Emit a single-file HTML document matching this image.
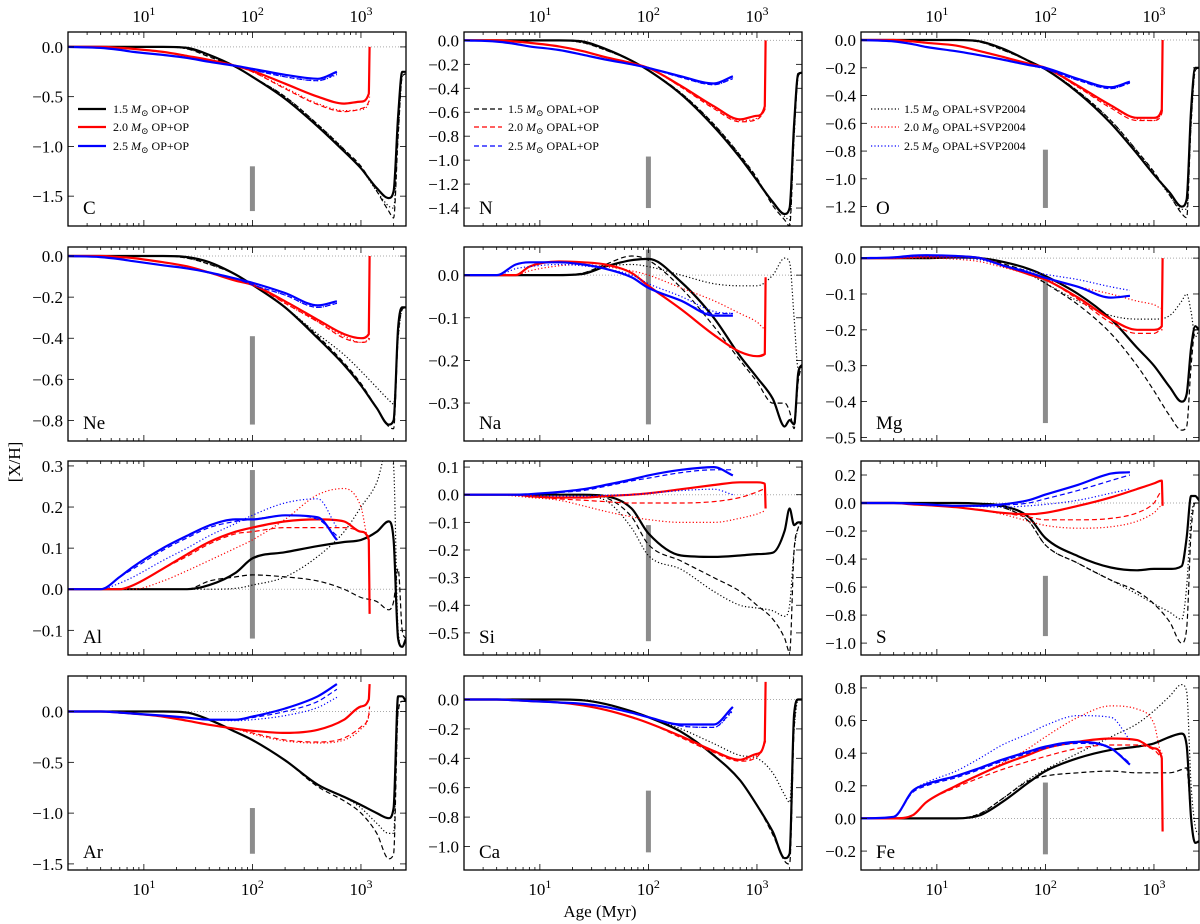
<!DOCTYPE html>
<html><head><meta charset="utf-8">
<style>
html,body{margin:0;padding:0;background:#fff;}
svg{display:block;font-family:"Liberation Serif","DejaVu Serif",serif;}
</style></head>
<body>
<svg id="fig" width="1200" height="924" viewBox="0 0 1200 924" xmlns="http://www.w3.org/2000/svg">
<text x="600" y="917" font-size="17" text-anchor="middle">Age (Myr)</text>
<text x="0" y="0" font-size="17" text-anchor="middle" transform="translate(20,462) rotate(-90)">[X/H]</text>
</svg>
<script>
// ---------- age grids (Myr) ----------
const A15=[2,4,8,15,25,40,70,100,200,400,700,1000,1400,1800,2000,2200,2400,2600];
const A20=[2,4,6,8,15,25,40,70,100,200,400,700,1000,1180,1200];
const A25=[2,4,6,8,15,25,40,70,100,200,400,600];
// ---------- C ----------
const C_15s=[0,0,0,0,-0.01,-0.08,-0.2,-0.3,-0.52,-0.8,-1.05,-1.22,-1.42,-1.52,-1.45,-0.7,-0.25,-0.25];
const C_15d=[0,0,0,0,-0.02,-0.1,-0.2,-0.3,-0.5,-0.78,-1.03,-1.2,-1.45,-1.65,-1.72,-0.9,-0.3,-0.27];
const C_15o=[0,0,0,0,-0.02,-0.09,-0.2,-0.3,-0.5,-0.78,-1.03,-1.22,-1.45,-1.6,-1.62,-0.9,-0.3,-0.27];
const C_20s=[0,0,-0.01,-0.02,-0.05,-0.09,-0.13,-0.19,-0.24,-0.37,-0.5,-0.57,-0.55,-0.47,0.0];
const C_20d=[0,0,-0.01,-0.02,-0.05,-0.09,-0.13,-0.19,-0.25,-0.42,-0.58,-0.65,-0.62,-0.55,-0.5];
const C_20o=[0,0,-0.01,-0.02,-0.05,-0.09,-0.13,-0.19,-0.25,-0.41,-0.57,-0.64,-0.63,-0.56,-0.52];
const C_25s=[0,-0.01,-0.03,-0.05,-0.08,-0.11,-0.15,-0.19,-0.22,-0.28,-0.32,-0.25];
const C_25d=[0,-0.01,-0.03,-0.05,-0.08,-0.11,-0.15,-0.19,-0.23,-0.3,-0.34,-0.27];
const C_25o=[0,-0.01,-0.03,-0.05,-0.08,-0.11,-0.15,-0.19,-0.23,-0.3,-0.34,-0.28];
// ---------- N ----------
const N_15s=[0,0,0,0,-0.01,-0.07,-0.17,-0.25,-0.45,-0.72,-0.98,-1.17,-1.35,-1.45,-1.4,-0.7,-0.28,-0.27];
const N_15d=[0,0,0,0,-0.02,-0.08,-0.17,-0.25,-0.44,-0.7,-0.96,-1.15,-1.38,-1.5,-1.55,-0.8,-0.3,-0.27];
const N_15o=[0,0,0,0,-0.02,-0.08,-0.17,-0.25,-0.44,-0.7,-0.96,-1.16,-1.36,-1.47,-1.5,-0.8,-0.3,-0.27];
const N_20s=[0,0,-0.01,-0.02,-0.05,-0.09,-0.14,-0.19,-0.23,-0.38,-0.55,-0.66,-0.63,-0.55,0.0];
const N_20d=[0,0,-0.01,-0.02,-0.05,-0.09,-0.14,-0.19,-0.23,-0.39,-0.57,-0.68,-0.66,-0.58,-0.56];
const N_20o=[0,0,-0.01,-0.02,-0.05,-0.09,-0.14,-0.19,-0.23,-0.39,-0.56,-0.67,-0.65,-0.57,-0.55];
const N_25s=[0,-0.01,-0.03,-0.05,-0.08,-0.12,-0.16,-0.2,-0.23,-0.3,-0.36,-0.3];
const N_25d=[0,-0.01,-0.03,-0.05,-0.08,-0.12,-0.16,-0.2,-0.23,-0.31,-0.37,-0.32];
const N_25o=[0,-0.01,-0.03,-0.05,-0.08,-0.12,-0.16,-0.2,-0.23,-0.31,-0.37,-0.32];
// ---------- O ----------
const O_15s=[0,0,0,0,-0.01,-0.06,-0.15,-0.21,-0.38,-0.6,-0.82,-0.97,-1.1,-1.2,-1.15,-0.5,-0.2,-0.2];
const O_15d=[0,0,0,0,-0.015,-0.07,-0.15,-0.21,-0.37,-0.58,-0.8,-0.95,-1.12,-1.25,-1.28,-0.6,-0.22,-0.2];
const O_15o=[0,0,0,0,-0.015,-0.07,-0.15,-0.21,-0.37,-0.58,-0.8,-0.96,-1.12,-1.22,-1.22,-0.6,-0.22,-0.2];
const O_20s=[0,0,-0.01,-0.02,-0.04,-0.08,-0.12,-0.17,-0.2,-0.33,-0.47,-0.56,-0.56,-0.5,0.0];
const O_20d=[0,0,-0.01,-0.02,-0.04,-0.08,-0.12,-0.17,-0.2,-0.34,-0.49,-0.58,-0.58,-0.53,-0.5];
const O_20o=[0,0,-0.01,-0.02,-0.04,-0.08,-0.12,-0.17,-0.2,-0.34,-0.48,-0.57,-0.58,-0.52,-0.5];
const O_25s=[0,-0.01,-0.03,-0.05,-0.08,-0.11,-0.14,-0.18,-0.2,-0.28,-0.34,-0.3];
const O_25d=[0,-0.01,-0.03,-0.05,-0.08,-0.11,-0.14,-0.18,-0.21,-0.29,-0.35,-0.31];
const O_25o=[0,-0.01,-0.03,-0.05,-0.08,-0.11,-0.14,-0.18,-0.21,-0.29,-0.35,-0.31];
// ---------- Ne ----------
const Ne_15s=[0,0,0,0,-0.005,-0.03,-0.09,-0.14,-0.25,-0.4,-0.53,-0.63,-0.74,-0.82,-0.8,-0.35,-0.25,-0.25];
const Ne_15d=[0,0,0,0,-0.01,-0.04,-0.09,-0.14,-0.25,-0.39,-0.52,-0.62,-0.74,-0.83,-0.84,-0.4,-0.26,-0.25];
const Ne_15o=[0,0,0,0,-0.01,-0.04,-0.09,-0.14,-0.25,-0.38,-0.48,-0.56,-0.64,-0.7,-0.72,-0.4,-0.26,-0.25];
const Ne_20s=[0,0,-0.005,-0.01,-0.03,-0.05,-0.08,-0.12,-0.14,-0.22,-0.31,-0.38,-0.4,-0.38,0.0];
const Ne_20d=[0,0,-0.005,-0.01,-0.03,-0.05,-0.08,-0.12,-0.14,-0.23,-0.32,-0.4,-0.42,-0.41,-0.4];
const Ne_20o=[0,0,-0.005,-0.01,-0.03,-0.05,-0.08,-0.12,-0.14,-0.23,-0.32,-0.39,-0.42,-0.4,-0.39];
const Ne_25s=[0,-0.005,-0.015,-0.025,-0.045,-0.06,-0.08,-0.11,-0.13,-0.18,-0.24,-0.22];
const Ne_25d=[0,-0.005,-0.015,-0.025,-0.045,-0.06,-0.08,-0.11,-0.14,-0.19,-0.25,-0.23];
const Ne_25o=[0,-0.005,-0.015,-0.025,-0.045,-0.06,-0.08,-0.11,-0.14,-0.19,-0.25,-0.23];
// ---------- Na ----------
const Na_15s=[0,0,0,0,0.003,0.02,0.035,0.038,-0.016,-0.1,-0.19,-0.24,-0.29,-0.355,-0.34,-0.35,-0.23,-0.21];
const Na_15d=[0,0,0,0,0.005,0.025,0.045,0.035,-0.03,-0.12,-0.2,-0.25,-0.3,-0.3,-0.32,-0.36,-0.25,-0.21];
const Na_15o=[0,0,0,0,0.005,0.02,0.025,0.02,0.0,-0.02,-0.025,-0.025,0.0,0.04,0.03,-0.1,-0.22,-0.21];
const Na_20s=[0,0,0,0.02,0.032,0.03,0.025,0.005,-0.025,-0.08,-0.14,-0.18,-0.19,-0.185,-0.005];
const Na_20d=[0,0,0,0.02,0.032,0.03,0.025,0.005,-0.025,-0.08,-0.14,-0.18,-0.19,-0.185,-0.185];
const Na_20o=[0,0,0,0.01,0.022,0.025,0.02,0.01,0.0,-0.03,-0.06,-0.09,-0.11,-0.125,-0.125];
const Na_25s=[0,0,0.025,0.03,0.03,0.025,0.015,-0.005,-0.03,-0.06,-0.095,-0.095];
const Na_25d=[0,0,0.025,0.03,0.03,0.025,0.015,-0.005,-0.03,-0.06,-0.09,-0.09];
const Na_25o=[0,0,0.015,0.02,0.025,0.022,0.015,0.0,-0.02,-0.05,-0.085,-0.09];
// ---------- Mg ----------
const Mg_15s=[0,0,0,0.002,0.0,-0.01,-0.03,-0.05,-0.1,-0.17,-0.25,-0.3,-0.36,-0.4,-0.38,-0.25,-0.19,-0.2];
const Mg_15d=[0,0,0,0.002,0.0,-0.015,-0.04,-0.07,-0.13,-0.21,-0.3,-0.37,-0.44,-0.48,-0.47,-0.3,-0.2,-0.2];
const Mg_15o=[0,0,0,0,-0.003,-0.02,-0.045,-0.07,-0.12,-0.16,-0.17,-0.17,-0.16,-0.12,-0.1,-0.15,-0.22,-0.2];
const Mg_20s=[0,0,0.003,0.005,0.005,0,-0.02,-0.045,-0.06,-0.11,-0.17,-0.2,-0.2,-0.19,0.0];
const Mg_20d=[0,0,0.003,0.005,0.005,0,-0.02,-0.045,-0.06,-0.115,-0.18,-0.21,-0.21,-0.2,-0.2];
const Mg_20o=[0,0,0,0,-0.003,-0.01,-0.025,-0.045,-0.06,-0.08,-0.1,-0.12,-0.13,-0.14,-0.14];
const Mg_25s=[0,0.002,0.007,0.008,0.006,0.0,-0.02,-0.04,-0.055,-0.08,-0.11,-0.105];
const Mg_25d=[0,0.002,0.007,0.008,0.006,0.0,-0.02,-0.04,-0.055,-0.08,-0.11,-0.105];
const Mg_25o=[0,0,0.003,0.004,0.0,-0.005,-0.02,-0.035,-0.045,-0.06,-0.08,-0.09];
// ---------- Al ----------
const Al_15s=[0,0,0,0,0.0,0.01,0.04,0.075,0.09,0.105,0.115,0.12,0.14,0.165,0.12,-0.12,-0.14,-0.12];
const Al_15d=[0,0,0,0,0,0.02,0.03,0.035,0.03,0.02,0.0,-0.02,-0.03,-0.05,-0.03,0.05,-0.1,-0.12];
const Al_15o=[0,0,0,0,0,0,0.002,0.01,0.03,0.08,0.14,0.2,0.26,0.35,0.3,-0.1,-0.14,-0.12];
const Al_20s=[0,0,0,0.01,0.05,0.085,0.115,0.14,0.15,0.165,0.17,0.165,0.14,0.12,-0.06];
const Al_20d=[0,0,0,0.01,0.05,0.08,0.11,0.135,0.14,0.15,0.15,0.15,0.14,0.13,0.13];
const Al_20o=[0,0,0,0.0,0.02,0.045,0.07,0.1,0.12,0.17,0.23,0.245,0.2,0.12,0.12];
const Al_25s=[0,0,0.03,0.055,0.1,0.13,0.155,0.17,0.17,0.18,0.175,0.12];
const Al_25d=[0,0,0.03,0.05,0.095,0.125,0.15,0.165,0.17,0.18,0.17,0.13];
const Al_25o=[0,0,0.015,0.03,0.07,0.1,0.13,0.16,0.18,0.21,0.22,0.15];
// ---------- Si ----------
const Si_15s=[0,0,0,0,0,-0.005,-0.05,-0.14,-0.22,-0.225,-0.22,-0.215,-0.21,-0.13,-0.05,-0.11,-0.1,-0.1];
const Si_15d=[0,0,0,0,0,-0.01,-0.08,-0.18,-0.24,-0.3,-0.35,-0.4,-0.45,-0.52,-0.57,-0.2,-0.12,-0.1];
const Si_15o=[0,0,0,0,-0.005,-0.02,-0.12,-0.22,-0.27,-0.35,-0.4,-0.41,-0.42,-0.44,-0.4,-0.2,-0.12,-0.1];
const Si_20s=[0,0,0,-0.005,-0.01,-0.01,-0.005,0.0,0.005,0.02,0.035,0.045,0.045,0.04,-0.05];
const Si_20d=[0,0,0,-0.005,-0.015,-0.02,-0.025,-0.03,-0.03,-0.03,-0.025,-0.01,0.01,0.02,0.02];
const Si_20o=[0,0,-0.005,-0.01,-0.02,-0.04,-0.06,-0.08,-0.09,-0.1,-0.1,-0.085,-0.07,-0.06,-0.06];
const Si_25s=[0,0,0.0,0.002,0.01,0.02,0.035,0.055,0.07,0.09,0.1,0.07];
const Si_25d=[0,0,0,0.001,0.008,0.015,0.03,0.05,0.06,0.08,0.09,0.09];
const Si_25o=[0,0,-0.002,-0.004,-0.005,-0.005,-0.002,0.0,0.005,0.015,0.02,0.0];
// ---------- S ----------
const S_15s=[0,0,0,0,-0.005,-0.02,-0.1,-0.25,-0.38,-0.46,-0.48,-0.47,-0.47,-0.45,-0.25,0.05,0.05,0.02];
const S_15d=[0,0,0,0,-0.005,-0.03,-0.13,-0.3,-0.43,-0.55,-0.63,-0.72,-0.85,-1.0,-0.9,-0.2,0.0,0.0];
const S_15o=[0,0,0,0,-0.005,-0.03,-0.13,-0.3,-0.43,-0.55,-0.65,-0.72,-0.78,-0.83,-0.6,-0.1,0.0,0.0];
const S_20s=[0,0,-0.01,-0.015,-0.03,-0.05,-0.07,-0.08,-0.07,-0.02,0.04,0.1,0.14,0.16,-0.02];
const S_20d=[0,0,-0.01,-0.015,-0.03,-0.05,-0.07,-0.1,-0.12,-0.12,-0.11,-0.07,0.0,0.08,0.08];
const S_20o=[0,0,-0.01,-0.015,-0.03,-0.05,-0.08,-0.13,-0.16,-0.18,-0.17,-0.13,-0.07,-0.02,-0.02];
const S_25s=[0,0,-0.005,-0.01,-0.02,-0.02,-0.01,0.02,0.06,0.13,0.21,0.22];
const S_25d=[0,0,-0.005,-0.01,-0.02,-0.02,-0.015,0.0,0.03,0.09,0.16,0.2];
const S_25o=[0,0,-0.005,-0.01,-0.02,-0.025,-0.03,-0.02,-0.01,0.02,0.07,0.1];
// ---------- Ar ----------
const Ar_15s=[0,0,0,0,-0.01,-0.08,-0.2,-0.28,-0.48,-0.72,-0.84,-0.92,-1.0,-1.05,-0.95,0.15,0.15,0.1];
const Ar_15d=[0,0,0,0,-0.01,-0.08,-0.2,-0.28,-0.48,-0.74,-0.88,-1.0,-1.2,-1.45,-1.4,0.0,0.1,0.1];
const Ar_15o=[0,0,0,0,-0.01,-0.08,-0.2,-0.28,-0.48,-0.72,-0.84,-0.95,-1.1,-1.2,-1.2,0.0,0.1,0.1];
const Ar_20s=[0,0,-0.01,-0.02,-0.05,-0.09,-0.13,-0.17,-0.19,-0.21,-0.18,-0.08,0.05,0.12,0.27];
const Ar_20d=[0,0,-0.01,-0.02,-0.05,-0.09,-0.13,-0.17,-0.21,-0.28,-0.3,-0.26,-0.15,-0.03,0.05];
const Ar_20o=[0,0,-0.01,-0.02,-0.05,-0.09,-0.13,-0.17,-0.22,-0.29,-0.31,-0.28,-0.17,-0.05,0.0];
const Ar_25s=[0,0,-0.01,-0.02,-0.04,-0.06,-0.08,-0.08,-0.05,0.03,0.15,0.27];
const Ar_25d=[0,0,-0.01,-0.02,-0.04,-0.06,-0.08,-0.085,-0.06,0.0,0.1,0.22];
const Ar_25o=[0,0,-0.01,-0.02,-0.04,-0.06,-0.08,-0.09,-0.08,-0.04,0.04,0.14];
// ---------- Ca ----------
const Ca_15s=[0,0,0,0,-0.005,-0.03,-0.08,-0.12,-0.22,-0.38,-0.55,-0.72,-0.9,-1.08,-1.05,-0.1,0.0,0.0];
const Ca_15d=[0,0,0,0,-0.005,-0.03,-0.08,-0.12,-0.22,-0.38,-0.55,-0.72,-0.92,-1.1,-1.12,-0.2,0.0,0.0];
const Ca_15o=[0,0,0,0,-0.005,-0.03,-0.08,-0.12,-0.2,-0.3,-0.38,-0.4,-0.5,-0.65,-0.7,-0.2,0.0,0.0];
const Ca_20s=[0,0,-0.005,-0.01,-0.02,-0.04,-0.07,-0.12,-0.16,-0.25,-0.35,-0.41,-0.37,-0.28,0.12];
const Ca_20d=[0,0,-0.005,-0.01,-0.02,-0.04,-0.07,-0.12,-0.16,-0.26,-0.36,-0.42,-0.39,-0.3,-0.28];
const Ca_20o=[0,0,-0.005,-0.01,-0.02,-0.04,-0.07,-0.12,-0.16,-0.25,-0.35,-0.41,-0.38,-0.3,-0.28];
const Ca_25s=[0,0,-0.005,-0.01,-0.02,-0.03,-0.05,-0.09,-0.12,-0.17,-0.17,-0.05];
const Ca_25d=[0,0,-0.005,-0.01,-0.02,-0.03,-0.05,-0.09,-0.12,-0.18,-0.19,-0.07];
const Ca_25o=[0,0,-0.005,-0.01,-0.02,-0.03,-0.05,-0.09,-0.12,-0.18,-0.19,-0.08];
// ---------- Fe ----------
const Fe_15s=[0,0,0,0,0.02,0.1,0.22,0.29,0.37,0.42,0.44,0.46,0.5,0.52,0.45,0.0,-0.15,-0.14];
const Fe_15d=[0,0,0,0,0.03,0.12,0.23,0.26,0.28,0.29,0.28,0.28,0.28,0.3,0.31,0.0,-0.15,-0.14];
const Fe_15o=[0,0,0,0,0.03,0.12,0.24,0.3,0.4,0.5,0.58,0.66,0.75,0.82,0.78,0.2,-0.05,-0.1];
const Fe_20s=[0,0,0.02,0.1,0.2,0.27,0.33,0.39,0.43,0.47,0.49,0.48,0.43,0.37,-0.08];
const Fe_20d=[0,0,0.02,0.1,0.19,0.25,0.3,0.35,0.38,0.43,0.45,0.45,0.42,0.38,0.38];
const Fe_20o=[0,0,0.02,0.1,0.2,0.27,0.34,0.43,0.5,0.62,0.69,0.67,0.58,0.4,0.4];
const Fe_25s=[0,0.01,0.17,0.21,0.26,0.31,0.36,0.41,0.44,0.47,0.43,0.33];
const Fe_25d=[0,0.01,0.16,0.2,0.25,0.3,0.35,0.4,0.43,0.46,0.43,0.34];
const Fe_25o=[0,0.01,0.17,0.22,0.29,0.37,0.45,0.52,0.57,0.63,0.62,0.48];

// axis limits and ticks per panel
const elements=['C','N','O','Ne','Na','Mg','Al','Si','S','Ar','Ca','Fe'];
const yLims=[[-1.8,0.15],[-1.55,0.07],[-1.34,0.058],[-0.9,0.044],[-0.389,0.066],[-0.51,0.031],[-0.16,0.312],[-0.58,0.122],[-1.085,0.30],[-1.56,0.35],[-1.16,0.16],[-0.316,0.873]];
const yTicks=[[0,-0.5,-1,-1.5],[0,-0.2,-0.4,-0.6,-0.8,-1,-1.2,-1.4],[0,-0.2,-0.4,-0.6,-0.8,-1,-1.2],[0,-0.2,-0.4,-0.6,-0.8],[0,-0.1,-0.2,-0.3],[0,-0.1,-0.2,-0.3,-0.4,-0.5],[0.3,0.2,0.1,0,-0.1],[0.1,0,-0.1,-0.2,-0.3,-0.4,-0.5],[0.2,0,-0.2,-0.4,-0.6,-0.8,-1.0],[0,-0.5,-1,-1.5],[0,-0.2,-0.4,-0.6,-0.8,-1.0],[0.8,0.6,0.4,0.2,0,-0.2]];
const barRanges=[[-1.2,-1.65],[-0.97,-1.4],[-0.79,-1.21],[-0.39,-0.82],[0.06,-0.35],[-0.05,-0.46],[0.29,-0.12],[-0.11,-0.53],[-0.52,-0.95],[-0.95,-1.4],[-0.62,-1.04],[0.22,-0.22]];
const seriesSets={
 C:[C_15s,C_15d,C_15o,C_20s,C_20d,C_20o,C_25s,C_25d,C_25o],
 N:[N_15s,N_15d,N_15o,N_20s,N_20d,N_20o,N_25s,N_25d,N_25o],
 O:[O_15s,O_15d,O_15o,O_20s,O_20d,O_20o,O_25s,O_25d,O_25o],
 Ne:[Ne_15s,Ne_15d,Ne_15o,Ne_20s,Ne_20d,Ne_20o,Ne_25s,Ne_25d,Ne_25o],
 Na:[Na_15s,Na_15d,Na_15o,Na_20s,Na_20d,Na_20o,Na_25s,Na_25d,Na_25o],
 Mg:[Mg_15s,Mg_15d,Mg_15o,Mg_20s,Mg_20d,Mg_20o,Mg_25s,Mg_25d,Mg_25o],
 Al:[Al_15s,Al_15d,Al_15o,Al_20s,Al_20d,Al_20o,Al_25s,Al_25d,Al_25o],
 Si:[Si_15s,Si_15d,Si_15o,Si_20s,Si_20d,Si_20o,Si_25s,Si_25d,Si_25o],
 S:[S_15s,S_15d,S_15o,S_20s,S_20d,S_20o,S_25s,S_25d,S_25o],
 Ar:[Ar_15s,Ar_15d,Ar_15o,Ar_20s,Ar_20d,Ar_20o,Ar_25s,Ar_25d,Ar_25o],
 Ca:[Ca_15s,Ca_15d,Ca_15o,Ca_20s,Ca_20d,Ca_20o,Ca_25s,Ca_25d,Ca_25o],
 Fe:[Fe_15s,Fe_15d,Fe_15o,Fe_20s,Fe_20d,Fe_20o,Fe_25s,Fe_25d,Fe_25o]
};

const NS='http://www.w3.org/2000/svg';
const svg=document.getElementById('fig');
const colL=[68,464,861], rowT=[32,247,461,676], PW=338, PH=194;
const XMIN=Math.log10(2), XMAX=Math.log10(2600);
const grids=[A15,A15,A15,A20,A20,A20,A25,A25,A25];
const colors=['#000','#000','#000','#f00','#f00','#f00','#00f','#00f','#00f'];
const styles=['solid','dashed','dotted','solid','dashed','dotted','solid','dashed','dotted'];
const massNames=['1.5','1.5','1.5','2.0','2.0','2.0','2.5','2.5','2.5'];
function mk(tag,attrs,parent){const e=document.createElementNS(NS,tag);for(const k in attrs)e.setAttribute(k,attrs[k]);(parent||svg).appendChild(e);return e;}
function fmt(v){return v.toFixed(1).replace('-','\u2212');}
// monotone cubic (Fritsch-Carlson) path through pixel points
function smoothPath(P){
  const n=P.length; if(n<2)return '';
  const dx=[],dy=[],m=[];
  for(let i=0;i<n-1;i++){dx.push(P[i+1][0]-P[i][0]);dy.push(P[i+1][1]-P[i][1]);m.push(dy[i]/dx[i]);}
  const t=new Array(n);
  t[0]=m[0];t[n-1]=m[n-2];
  for(let i=1;i<n-1;i++){t[i]=(m[i-1]*m[i]<=0)?0:(m[i-1]+m[i])/2;}
  for(let i=0;i<n-1;i++){
    if(m[i]===0){t[i]=0;t[i+1]=0;continue;}
    const a=t[i]/m[i],b=t[i+1]/m[i],s=a*a+b*b;
    if(s>9){const tau=3/Math.sqrt(s);t[i]=tau*a*m[i];t[i+1]=tau*b*m[i];}
  }
  let d='M'+P[0][0].toFixed(1)+','+P[0][1].toFixed(1);
  for(let i=0;i<n-1;i++){
    const h=dx[i]/3;
    d+=' C'+(P[i][0]+h).toFixed(1)+','+(P[i][1]+t[i]*h).toFixed(1)+' '+(P[i+1][0]-h).toFixed(1)+','+(P[i+1][1]-t[i+1]*h).toFixed(1)+' '+P[i+1][0].toFixed(1)+','+P[i+1][1].toFixed(1);
  }
  return d;
}
const defs=mk('defs',{});

elements.forEach((el,i)=>{
  const c=i%3, r=Math.floor(i/3);
  const x0=colL[c], y0=rowT[r];
  const [ymin,ymax]=yLims[i];
  const xs=a=>x0+(Math.log10(a)-XMIN)/(XMAX-XMIN)*PW;
  const ys=v=>y0+(ymax-v)/(ymax-ymin)*PH;
  const g=mk('g',{});
  
  
  const cp=mk('clipPath',{id:'cp'+i},defs);
  mk('rect',{x:x0,y:y0,width:PW,height:PH},cp);
  const zl=mk('line',{x1:x0,x2:x0+PW,y1:ys(0),y2:ys(0),stroke:'#aaa','stroke-width':1,'stroke-dasharray':'1,2'},g);
  
  
  const br=barRanges[i];
  const bar=mk('rect',{x:xs(100)-2.5,y:ys(br[0]),width:5,height:ys(br[1])-ys(br[0]),fill:'#8c8c8c'},g);
  
  
  const sg=mk('g',{'clip-path':'url(#cp'+i+')'},g);
  seriesSets[el].forEach((vals,k)=>{
    const ag=grids[k];
    const pts=vals.map((v,j)=>[xs(ag[j]),ys(v)]);
    const st=styles[k];
    const p=mk('path',{d:smoothPath(pts),fill:'none',stroke:colors[k],'stroke-width':st==='solid'?2.2:1.2,'stroke-linejoin':'round'},sg);
    if(st==='dashed')p.setAttribute('stroke-dasharray','5,3');
    if(st==='dotted')p.setAttribute('stroke-dasharray','1.2,2.2');
    
    
  });
  const fr=mk('rect',{x:x0,y:y0,width:PW,height:PH,fill:'none',stroke:'#000','stroke-width':1.3},g);
  
  
  for(let dec=0;dec<=3;dec++){
    for(let m=1;m<=9;m++){
      const a=m*Math.pow(10,dec);
      if(a<2||a>2600)continue;
      const x=xs(a), L=(m===1)?6:3;
      mk('line',{x1:x,x2:x,y1:y0,y2:y0+L,stroke:'#000','stroke-width':0.8},g);
      mk('line',{x1:x,x2:x,y1:y0+PH,y2:y0+PH-L,stroke:'#000','stroke-width':0.8},g);
    }
  }
  [1,2,3].forEach(e=>{
    const x=xs(Math.pow(10,e));
    if(r===0){
      const t=mk('text',{x:x,y:y0-10,'font-size':17,'text-anchor':'middle'},g);
      
      
      t.innerHTML='10<tspan dy="-7" font-size="12">'+e+'</tspan>';
    }
    if(r===3){
      const t=mk('text',{x:x,y:y0+PH+25,'font-size':17,'text-anchor':'middle'},g);
      
      
      t.innerHTML='10<tspan dy="-7" font-size="12">'+e+'</tspan>';
    }
  });
  yTicks[i].forEach(v=>{
    const y=ys(v);
    mk('line',{x1:x0,x2:x0+6,y1:y,y2:y,stroke:'#000','stroke-width':0.8},g);
    mk('line',{x1:x0+PW,x2:x0+PW-6,y1:y,y2:y,stroke:'#000','stroke-width':0.8},g);
    const t=mk('text',{x:x0-5,y:y+6,'font-size':17,'text-anchor':'end'},g);
    
    
    t.textContent=fmt(v);
  });
  const lab=mk('text',{x:x0+15,y:y0+PH-12,'font-size':19},g);
  
  
  lab.textContent=el;
});

const legendDefs=[
 {col:0,style:'solid',txt:'OP+OP',lx:78,tx:113},
 {col:1,style:'dashed',txt:'OPAL+OP',lx:474,tx:508},
 {col:2,style:'dotted',txt:'OPAL+SVP2004',lx:871,tx:904}
];
const legMasses=['1.5','2.0','2.5'], legColors=['#000','#f00','#00f'], legY=[109,127,146];
legendDefs.forEach(L=>{
  const lg=mk('g',{});
  
  
  legMasses.forEach((m,k)=>{
    const ln=mk('line',{x1:L.lx,x2:L.lx+28,y1:legY[k],y2:legY[k],stroke:legColors[k],'stroke-width':L.style==='solid'?2.2:1.2},lg);
    if(L.style==='dashed')ln.setAttribute('stroke-dasharray','5,3');
    if(L.style==='dotted')ln.setAttribute('stroke-dasharray','1.2,2.2');
    const t=mk('text',{x:L.tx,y:legY[k]+4,'font-size':12},lg);
    
    
    t.innerHTML=m+' <tspan font-style="italic">M</tspan><tspan font-size="9" dy="3">\u2299</tspan><tspan dy="-3"> '+L.txt+'</tspan>';
  });
});
</script>
</body></html>
